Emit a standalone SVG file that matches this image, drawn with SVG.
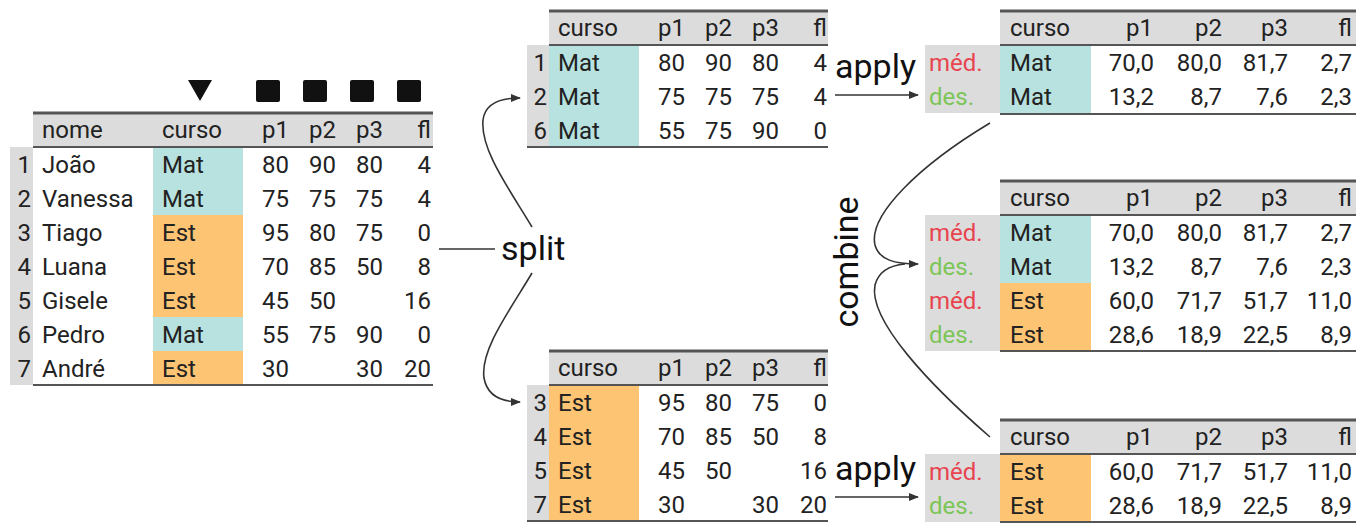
<svg xmlns="http://www.w3.org/2000/svg" width="1361" height="523" viewBox="0 0 1361 523">
  <style>
    text { font-family: Roboto, "Liberation Sans", sans-serif; font-size: 24px; fill: #222; }
    .e { text-anchor: end; }
    .big { font-size: 34px; fill: #111; }
    .hdr { fill: #dcdcdc; }
    .idx { fill: #dcdcdc; }
    .mat { fill: #b8e2e0; }
    .est { fill: #fcc473; }
    .top { stroke: #555; stroke-width: 3; }
    .rule { stroke: #555; stroke-width: 2; }
    .med { fill: #e8434f; }
    .des { fill: #7cc557; }
    .conn { fill: none; stroke: #333; stroke-width: 1.6; }
  </style>
  <defs>
    <marker id="arrow" viewBox="0 0 10 8" refX="9" refY="4" markerWidth="10" markerHeight="8" markerUnits="userSpaceOnUse" orient="auto">
      <path d="M0,0 L10,4 L0,8 z" fill="#333"/>
    </marker>
  </defs>

  <!-- column type markers above the source table -->
  <g id="markers" fill="#111">
    <path d="M188,80 L212,80 L200,101 z"/>
    <rect x="256" y="80" width="24" height="22" rx="2"/>
    <rect x="303" y="80" width="24" height="22" rx="2"/>
    <rect x="350" y="80" width="24" height="22" rx="2"/>
    <rect x="397" y="80" width="24" height="22" rx="2"/>
  </g>

  <!-- source table -->
  <g id="table-source">
    <rect class="hdr" x="33" y="113" width="400" height="34"/>
    <rect class="idx" x="10" y="147" width="23" height="238"/>
    <rect class="mat" x="153" y="147" width="90" height="68"/>
    <rect class="est" x="153" y="215" width="90" height="102"/>
    <rect class="mat" x="153" y="317" width="90" height="34"/>
    <rect class="est" x="153" y="351" width="90" height="34"/>
    <line class="top" x1="33" y1="113" x2="433" y2="113"/>
    <line class="rule" x1="33" y1="147" x2="433" y2="147"/>
    <line class="rule" x1="33" y1="385" x2="433" y2="385"/>
    <text x="42" y="138">nome</text><text x="162" y="138">curso</text>
    <text class="e" x="289" y="138">p1</text><text class="e" x="336" y="138">p2</text><text class="e" x="383" y="138">p3</text><text class="e" x="431" y="138">fl</text>

    <text class="e" x="31" y="173">1</text><text x="42" y="173">João</text><text x="162" y="173">Mat</text>
    <text class="e" x="289" y="173">80</text><text class="e" x="336" y="173">90</text><text class="e" x="383" y="173">80</text><text class="e" x="431" y="173">4</text>

    <text class="e" x="31" y="207">2</text><text x="42" y="207">Vanessa</text><text x="162" y="207">Mat</text>
    <text class="e" x="289" y="207">75</text><text class="e" x="336" y="207">75</text><text class="e" x="383" y="207">75</text><text class="e" x="431" y="207">4</text>

    <text class="e" x="31" y="241">3</text><text x="42" y="241">Tiago</text><text x="162" y="241">Est</text>
    <text class="e" x="289" y="241">95</text><text class="e" x="336" y="241">80</text><text class="e" x="383" y="241">75</text><text class="e" x="431" y="241">0</text>

    <text class="e" x="31" y="275">4</text><text x="42" y="275">Luana</text><text x="162" y="275">Est</text>
    <text class="e" x="289" y="275">70</text><text class="e" x="336" y="275">85</text><text class="e" x="383" y="275">50</text><text class="e" x="431" y="275">8</text>

    <text class="e" x="31" y="309">5</text><text x="42" y="309">Gisele</text><text x="162" y="309">Est</text>
    <text class="e" x="289" y="309">45</text><text class="e" x="336" y="309">50</text><text class="e" x="431" y="309">16</text>

    <text class="e" x="31" y="343">6</text><text x="42" y="343">Pedro</text><text x="162" y="343">Mat</text>
    <text class="e" x="289" y="343">55</text><text class="e" x="336" y="343">75</text><text class="e" x="383" y="343">90</text><text class="e" x="431" y="343">0</text>

    <text class="e" x="31" y="377">7</text><text x="42" y="377">André</text><text x="162" y="377">Est</text>
    <text class="e" x="289" y="377">30</text><text class="e" x="383" y="377">30</text><text class="e" x="431" y="377">20</text>
  </g>

  <!-- split group: Mat -->
  <g id="table-split-mat">
    <rect class="hdr" x="549" y="11" width="279" height="34"/>
    <rect class="idx" x="527" y="45" width="22" height="102"/>
    <rect class="mat" x="549" y="45" width="90" height="102"/>
    <line class="top" x1="549" y1="11" x2="828" y2="11"/>
    <line class="rule" x1="549" y1="45" x2="828" y2="45"/>
    <line class="rule" x1="527" y1="147" x2="828" y2="147"/>
    <text x="558" y="36">curso</text>
    <text class="e" x="685" y="36">p1</text><text class="e" x="732" y="36">p2</text><text class="e" x="779" y="36">p3</text><text class="e" x="827" y="36">fl</text>
    <text class="e" x="547" y="71">1</text><text x="558" y="71">Mat</text>
    <text class="e" x="685" y="71">80</text><text class="e" x="732" y="71">90</text><text class="e" x="779" y="71">80</text><text class="e" x="827" y="71">4</text>
    <text class="e" x="547" y="105">2</text><text x="558" y="105">Mat</text>
    <text class="e" x="685" y="105">75</text><text class="e" x="732" y="105">75</text><text class="e" x="779" y="105">75</text><text class="e" x="827" y="105">4</text>
    <text class="e" x="547" y="139">6</text><text x="558" y="139">Mat</text>
    <text class="e" x="685" y="139">55</text><text class="e" x="732" y="139">75</text><text class="e" x="779" y="139">90</text><text class="e" x="827" y="139">0</text>
  </g>

  <!-- split group: Est -->
  <g id="table-split-est">
    <rect class="hdr" x="549" y="351" width="279" height="34"/>
    <rect class="idx" x="527" y="385" width="22" height="136"/>
    <rect class="est" x="549" y="385" width="90" height="136"/>
    <line class="top" x1="549" y1="351" x2="828" y2="351"/>
    <line class="rule" x1="549" y1="385" x2="828" y2="385"/>
    <line class="rule" x1="527" y1="521" x2="828" y2="521"/>
    <text x="558" y="376">curso</text>
    <text class="e" x="685" y="376">p1</text><text class="e" x="732" y="376">p2</text><text class="e" x="779" y="376">p3</text><text class="e" x="827" y="376">fl</text>
    <text class="e" x="547" y="411">3</text><text x="558" y="411">Est</text>
    <text class="e" x="685" y="411">95</text><text class="e" x="732" y="411">80</text><text class="e" x="779" y="411">75</text><text class="e" x="827" y="411">0</text>
    <text class="e" x="547" y="445">4</text><text x="558" y="445">Est</text>
    <text class="e" x="685" y="445">70</text><text class="e" x="732" y="445">85</text><text class="e" x="779" y="445">50</text><text class="e" x="827" y="445">8</text>
    <text class="e" x="547" y="479">5</text><text x="558" y="479">Est</text>
    <text class="e" x="685" y="479">45</text><text class="e" x="732" y="479">50</text><text class="e" x="827" y="479">16</text>
    <text class="e" x="547" y="513">7</text><text x="558" y="513">Est</text>
    <text class="e" x="685" y="513">30</text><text class="e" x="779" y="513">30</text><text class="e" x="827" y="513">20</text>
  </g>

  <!-- summary: Mat -->
  <g id="table-apply-mat">
    <rect class="hdr" x="1000" y="11" width="356" height="34"/>
    <rect class="idx" x="925" y="45" width="75" height="68"/>
    <rect class="mat" x="1000" y="45" width="91" height="68"/>
    <line class="top" x1="1000" y1="11" x2="1356" y2="11"/>
    <line class="rule" x1="1000" y1="45" x2="1356" y2="45"/>
    <line class="rule" x1="1000" y1="114" x2="1356" y2="114"/>
    <text x="1010" y="36">curso</text>
    <text class="e" x="1153" y="36">p1</text><text class="e" x="1222" y="36">p2</text><text class="e" x="1288" y="36">p3</text><text class="e" x="1352" y="36">fl</text>
    <text class="med" x="929" y="71">méd.</text><text x="1010" y="71">Mat</text>
    <text class="e" x="1154" y="71">70,0</text><text class="e" x="1222" y="71">80,0</text><text class="e" x="1288" y="71">81,7</text><text class="e" x="1352" y="71">2,7</text>
    <text class="des" x="929" y="105">des.</text><text x="1010" y="105">Mat</text>
    <text class="e" x="1154" y="105">13,2</text><text class="e" x="1222" y="105">8,7</text><text class="e" x="1288" y="105">7,6</text><text class="e" x="1352" y="105">2,3</text>
  </g>

  <!-- combined result -->
  <g id="table-combined">
    <rect class="hdr" x="1000" y="181" width="356" height="34"/>
    <rect class="idx" x="925" y="215" width="75" height="136"/>
    <rect class="mat" x="1000" y="215" width="91" height="68"/>
    <rect class="est" x="1000" y="283" width="91" height="68"/>
    <line class="top" x1="1000" y1="181" x2="1356" y2="181"/>
    <line class="rule" x1="1000" y1="215" x2="1356" y2="215"/>
    <line class="rule" x1="1000" y1="351" x2="1356" y2="351"/>
    <text x="1010" y="206">curso</text>
    <text class="e" x="1153" y="206">p1</text><text class="e" x="1222" y="206">p2</text><text class="e" x="1288" y="206">p3</text><text class="e" x="1352" y="206">fl</text>
    <text class="med" x="929" y="241">méd.</text><text x="1010" y="241">Mat</text>
    <text class="e" x="1154" y="241">70,0</text><text class="e" x="1222" y="241">80,0</text><text class="e" x="1288" y="241">81,7</text><text class="e" x="1352" y="241">2,7</text>
    <text class="des" x="929" y="275">des.</text><text x="1010" y="275">Mat</text>
    <text class="e" x="1154" y="275">13,2</text><text class="e" x="1222" y="275">8,7</text><text class="e" x="1288" y="275">7,6</text><text class="e" x="1352" y="275">2,3</text>
    <text class="med" x="929" y="309">méd.</text><text x="1010" y="309">Est</text>
    <text class="e" x="1154" y="309">60,0</text><text class="e" x="1222" y="309">71,7</text><text class="e" x="1288" y="309">51,7</text><text class="e" x="1352" y="309">11,0</text>
    <text class="des" x="929" y="343">des.</text><text x="1010" y="343">Est</text>
    <text class="e" x="1154" y="343">28,6</text><text class="e" x="1222" y="343">18,9</text><text class="e" x="1288" y="343">22,5</text><text class="e" x="1352" y="343">8,9</text>
  </g>

  <!-- summary: Est -->
  <g id="table-apply-est">
    <rect class="hdr" x="1000" y="420" width="356" height="34"/>
    <rect class="idx" x="925" y="454" width="75" height="68"/>
    <rect class="est" x="1000" y="454" width="91" height="68"/>
    <line class="top" x1="1000" y1="420" x2="1356" y2="420"/>
    <line class="rule" x1="1000" y1="454" x2="1356" y2="454"/>
    <line class="rule" x1="1000" y1="522" x2="1356" y2="522"/>
    <text x="1010" y="445">curso</text>
    <text class="e" x="1153" y="445">p1</text><text class="e" x="1222" y="445">p2</text><text class="e" x="1288" y="445">p3</text><text class="e" x="1352" y="445">fl</text>
    <text class="med" x="929" y="480">méd.</text><text x="1010" y="480">Est</text>
    <text class="e" x="1154" y="480">60,0</text><text class="e" x="1222" y="480">71,7</text><text class="e" x="1288" y="480">51,7</text><text class="e" x="1352" y="480">11,0</text>
    <text class="des" x="929" y="514">des.</text><text x="1010" y="514">Est</text>
    <text class="e" x="1154" y="514">28,6</text><text class="e" x="1222" y="514">18,9</text><text class="e" x="1288" y="514">22,5</text><text class="e" x="1352" y="514">8,9</text>
  </g>

  <!-- step labels -->
  <g id="labels">
    <text class="big" x="501" y="260">split</text>
    <text class="big" x="835" y="78">apply</text>
    <text class="big" x="835" y="480">apply</text>
    <text class="big" text-anchor="middle" transform="translate(858,262) rotate(-90)">combine</text>
  </g>

  <!-- connectors -->
  <g id="connectors">
    <line class="conn" x1="439" y1="249" x2="495" y2="249"/>
    <path class="conn" d="M532,227 C510,190 480,150 483,120 C485,104 500,98 520,98" marker-end="url(#arrow)"/>
    <path class="conn" d="M532,273 C510,310 480,350 484,378 C487,395 500,402 520,402" marker-end="url(#arrow)"/>
    <line class="conn" x1="835" y1="95" x2="918" y2="95" marker-end="url(#arrow)"/>
    <line class="conn" x1="835" y1="497" x2="918" y2="497" marker-end="url(#arrow)"/>
    <path class="conn" d="M990,123 C920,165 868,215 875,245 C879,260 895,264 918,264" marker-end="url(#arrow)"/>
    <path class="conn" d="M990,437 C930,385 868,320 875,285 C879,270 893,265 905,264"/>
  </g>
</svg>
